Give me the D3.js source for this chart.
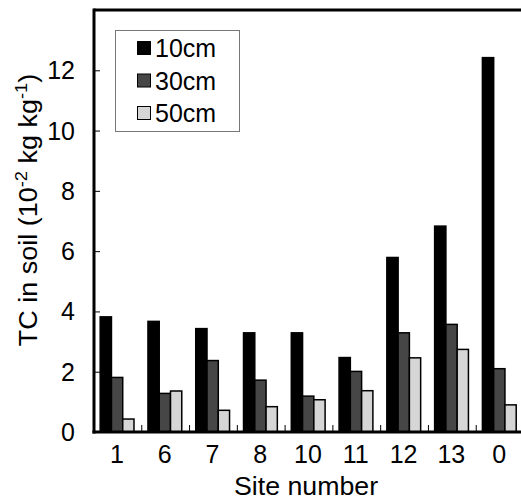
<!DOCTYPE html>
<html>
<head>
<meta charset="utf-8">
<script src="https://cdn.jsdelivr.net/npm/d3@7"></script>
<style>
  body { margin: 0; background: #fff; }
  text { font-family: "Liberation Sans", Arial, sans-serif; }
</style>
</head>
<body>
<script>
// site numbers along x
var sites = ["1", "6", "7", "8", "10", "11", "12", "13", "0"];
// TC in soil, 10^-2 kg/kg, per depth
var tc10 = [3.82, 3.67, 3.43, 3.29, 3.29, 2.47, 5.79, 6.83, 12.42];
var tc30 = [1.81, 1.28, 2.37, 1.72, 1.19, 2.01, 3.29, 3.57, 2.10];
var tc50 = [0.43, 1.36, 0.72, 0.84, 1.07, 1.37, 2.46, 2.74, 0.90];
var depths = ["10cm", "30cm", "50cm"];
var yTicks = [0, 2, 4, 6, 8, 10, 12];

var width = 521;
var height = 499;
var mLeft = 94, mRight = 524, mTop = 10, mBottom = 432;
var fs = 25;
var colors = { "10cm": "#000000", "30cm": "#464646", "50cm": "#d6d6d6" };

var series = [tc10, tc30, tc50];

const svg = d3.select("body")
    .append("svg")
    .attr("width", width)
    .attr("height", height);

const x0 = d3.scaleBand()
    .domain(sites)
    .range([mLeft, mRight]);

const x1 = d3.scaleBand()
    .domain(depths)
    .range([0, x0.bandwidth()])
    .paddingOuter(0.62);

const y = d3.scaleLinear()
    .domain([0, 14])
    .range([mBottom, mTop]);

// bars
const groups = svg.selectAll("g.site")
    .data(sites)
    .enter()
    .append("g")
    .attr("class", "site")
    .attr("transform", function (d) { return "translate(" + (x0(d) - 0.8) + ",0)"; });

groups.selectAll("rect")
    .data(function (d, i) {
        return depths.map(function (k, j) { return { key: k, value: series[j][i] }; });
    })
    .enter()
    .append("rect")
    .attr("x", function (d) { return x1(d.key); })
    .attr("width", x1.bandwidth())
    .attr("y", function (d) { return y(d.value); })
    .attr("height", function (d) { return y(0) - y(d.value); })
    .attr("fill", function (d) { return colors[d.key]; })
    .attr("stroke", "#000")
    .attr("stroke-width", 1.5);

// y axis, ticks pointing inward
const yAxis = svg.append("g")
    .attr("transform", "translate(" + mLeft + ",0)")
    .call(d3.axisRight(y).tickValues(yTicks).tickSize(6).tickFormat(""));
yAxis.select(".domain").remove();
yAxis.selectAll(".tick line").attr("stroke-width", 1);

svg.selectAll("text.ylab")
    .data(yTicks)
    .enter()
    .append("text")
    .attr("class", "ylab")
    .attr("x", 75)
    .attr("y", function (d) { return y(d) + 9; })
    .attr("text-anchor", "end")
    .attr("font-size", fs)
    .text(function (d) { return d; });

// x axis: small inward ticks between groups
const xAxis = svg.append("g")
    .attr("transform", "translate(0," + mBottom + ")");
xAxis.selectAll("line")
    .data(sites.slice(1))
    .enter()
    .append("line")
    .attr("x1", function (d) { return x0(d); })
    .attr("x2", function (d) { return x0(d); })
    .attr("y1", 0)
    .attr("y2", -7)
    .attr("stroke", "#000")
    .attr("stroke-width", 1);

xAxis.selectAll("text")
    .data(sites)
    .enter()
    .append("text")
    .attr("x", function (d) { return x0(d) + x0.bandwidth() / 2 - 1; })
    .attr("y", 31)
    .attr("text-anchor", "middle")
    .attr("font-size", fs)
    .text(function (d) { return d; });

// frame lines
svg.append("line")
    .attr("x1", mLeft).attr("x2", width)
    .attr("y1", mTop).attr("y2", mTop)
    .attr("stroke", "#000").attr("stroke-width", 3);
svg.append("line")
    .attr("x1", mLeft).attr("x2", mLeft)
    .attr("y1", mTop - 1.5).attr("y2", mBottom + 1.5)
    .attr("stroke", "#000").attr("stroke-width", 3);
svg.append("line")
    .attr("x1", mLeft - 1.5).attr("x2", width)
    .attr("y1", mBottom).attr("y2", mBottom)
    .attr("stroke", "#000").attr("stroke-width", 3);

// axis titles
svg.append("text")
    .attr("transform", "translate(306,495) scale(1.07,1)")
    .attr("text-anchor", "middle")
    .attr("font-size", fs)
    .text("Site number");

const ylabel = svg.append("text")
    .attr("transform", "translate(37,210) rotate(-90) scale(1.08,1)")
    .attr("text-anchor", "middle")
    .attr("font-size", fs);
ylabel.append("tspan").text("TC in soil (10");
ylabel.append("tspan").attr("dy", -10).attr("font-size", 17).text("-2");
ylabel.append("tspan").attr("dy", 10).text(" kg kg");
ylabel.append("tspan").attr("dy", -10).attr("font-size", 17).text("-1");
ylabel.append("tspan").attr("dy", 10).text(")");

// legend
const legend = svg.append("g");
legend.append("rect")
    .attr("x", 115.5).attr("y", 30.5)
    .attr("width", 124).attr("height", 101)
    .attr("fill", "#fff")
    .attr("stroke", "#777").attr("stroke-width", 1);

const items = legend.selectAll("g.item")
    .data(depths)
    .enter()
    .append("g")
    .attr("class", "item")
    .attr("transform", function (d, i) { return "translate(0," + (48 + i * 32.5) + ")"; });

items.append("rect")
    .attr("x", 137.5).attr("y", -6.5)
    .attr("width", 13).attr("height", 13)
    .attr("fill", function (d) { return colors[d]; })
    .attr("stroke", "#000").attr("stroke-width", 1);

items.append("text")
    .attr("x", 155)
    .attr("y", 9)
    .attr("font-size", fs)
    .text(function (d) { return d; });
</script>
</body>
</html>
